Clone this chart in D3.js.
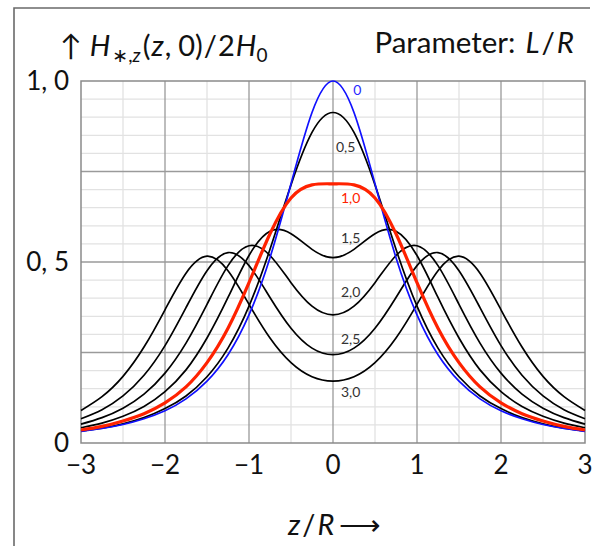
<!DOCTYPE html>
<html>
<head>
<meta charset="utf-8">
<script src="https://cdn.jsdelivr.net/npm/d3@7"></script>
<style>
  html, body { margin: 0; padding: 0; background: #fff; }
  svg { display: block; }
  text { font-family: Lato, "Open Sans", "DejaVu Sans", sans-serif; fill: #111; }
</style>
</head>
<body>
<svg id="chart" width="592" height="546"></svg>
<script>
// Axial field of two coaxial loops, normalised: H*,z(z,0) / 2H0, one curve per spacing L/R
const zValues = [-3, -2.75, -2.5, -2.25, -2, -1.75, -1.5, -1.25, -1, -0.75, -0.5, -0.25,
                 0, 0.25, 0.5, 0.75, 1, 1.25, 1.5, 1.75, 2, 2.25, 2.5, 2.75, 3];

const seriesL00 = [0.032, 0.040, 0.051, 0.067, 0.089, 0.122, 0.171, 0.244, 0.354, 0.512, 0.716, 0.913,
                   1.000, 0.913, 0.716, 0.512, 0.354, 0.244, 0.171, 0.122, 0.089, 0.067, 0.051, 0.040, 0.032];
const seriesL05 = [0.033, 0.041, 0.053, 0.070, 0.095, 0.130, 0.183, 0.262, 0.378, 0.535, 0.713, 0.858,
                   0.913, 0.858, 0.713, 0.535, 0.378, 0.262, 0.183, 0.130, 0.095, 0.070, 0.053, 0.041, 0.033];
const seriesL10 = [0.036, 0.046, 0.061, 0.081, 0.111, 0.155, 0.222, 0.317, 0.443, 0.578, 0.677, 0.713,
                   0.716, 0.713, 0.677, 0.578, 0.443, 0.317, 0.222, 0.155, 0.111, 0.081, 0.061, 0.046, 0.036];
const seriesL15 = [0.042, 0.055, 0.074, 0.101, 0.142, 0.202, 0.290, 0.402, 0.518, 0.585, 0.578, 0.535,
                   0.512, 0.535, 0.578, 0.585, 0.518, 0.402, 0.290, 0.202, 0.142, 0.101, 0.074, 0.055, 0.042];
const seriesL20 = [0.052, 0.070, 0.096, 0.135, 0.193, 0.276, 0.383, 0.490, 0.545, 0.518, 0.443, 0.378,
                   0.354, 0.378, 0.443, 0.518, 0.545, 0.490, 0.383, 0.276, 0.193, 0.135, 0.096, 0.070, 0.052];
const seriesL25 = [0.067, 0.092, 0.130, 0.187, 0.269, 0.374, 0.476, 0.526, 0.490, 0.402, 0.317, 0.262,
                   0.244, 0.262, 0.317, 0.402, 0.490, 0.526, 0.476, 0.374, 0.269, 0.187, 0.130, 0.092, 0.067];
const seriesL30 = [0.090, 0.128, 0.184, 0.265, 0.368, 0.469, 0.516, 0.476, 0.383, 0.290, 0.222, 0.183,
                   0.171, 0.183, 0.222, 0.290, 0.383, 0.476, 0.516, 0.469, 0.368, 0.265, 0.184, 0.128, 0.090];

const curveLabels = ["0", "0,5", "1,0", "1,5", "2,0", "2,5", "3,0"];
const xTickValues = [-3, -2, -1, 0, 1, 2, 3];
const xTickLabels = ["\u22123", "\u22122", "\u22121", "0", "1", "2", "3"];
const yTickValues = [0, 0.5, 1];
const yTickLabels = ["0", "0, 5", "1, 0"];

const svg = d3.select("#chart");
const W = 592, H = 546;
const plot = { left: 81, right: 585, top: 81, bottom: 443 };

const x = d3.scaleLinear().domain([-3, 3]).range([plot.left, plot.right]);
const y = d3.scaleLinear().domain([0, 1]).range([plot.bottom, plot.top]);

// outer frame (left and top edges)
svg.append("path")
  .attr("d", `M14,${H} L14,8 L590,8`)
  .attr("fill", "none").attr("stroke", "#6a6a6a").attr("stroke-width", 1.6);

// grid
const grid = svg.append("g");
const minorX = d3.range(-3, 3.0001, 0.5).filter(v => Math.abs(v % 1) > 1e-6);
const minorY = d3.range(0, 1.0001, 0.05).filter(v => Math.abs((v / 0.25) - Math.round(v / 0.25)) > 1e-6);
const majorX = d3.range(-2, 2.0001, 1);
const majorY = [0.25, 0.5, 0.75];

grid.selectAll(".mx").data(minorX).join("line")
  .attr("x1", d => x(d)).attr("x2", d => x(d))
  .attr("y1", plot.top).attr("y2", plot.bottom)
  .attr("stroke", "#e2e2e2").attr("stroke-width", 1.3);
grid.selectAll(".my").data(minorY).join("line")
  .attr("y1", d => y(d)).attr("y2", d => y(d))
  .attr("x1", plot.left).attr("x2", plot.right)
  .attr("stroke", "#e2e2e2").attr("stroke-width", 1.3);
grid.selectAll(".Mx").data(majorX).join("line")
  .attr("x1", d => x(d)).attr("x2", d => x(d))
  .attr("y1", plot.top).attr("y2", plot.bottom)
  .attr("stroke", "#9a9a9a").attr("stroke-width", 1.3);
grid.selectAll(".My").data(majorY).join("line")
  .attr("y1", d => y(d)).attr("y2", d => y(d))
  .attr("x1", plot.left).attr("x2", plot.right)
  .attr("stroke", "#9a9a9a").attr("stroke-width", 1.3);
grid.append("rect")
  .attr("x", plot.left).attr("y", plot.top)
  .attr("width", plot.right - plot.left).attr("height", plot.bottom - plot.top)
  .attr("fill", "none").attr("stroke", "#8a8a8a").attr("stroke-width", 1.5);

// curves
const line = d3.line()
  .x((d, i) => x(zValues[i]))
  .y(d => y(d))
  .curve(d3.curveNatural);

const curves = [
  { data: seriesL05, color: "#000", width: 1.7 },
  { data: seriesL15, color: "#000", width: 1.7 },
  { data: seriesL20, color: "#000", width: 1.7 },
  { data: seriesL25, color: "#000", width: 1.7 },
  { data: seriesL30, color: "#000", width: 1.7 },
  { data: seriesL00, color: "#1010ff", width: 1.7 },
  { data: seriesL10, color: "#ff2200", width: 3.2 }
];
svg.append("g").selectAll("path").data(curves).join("path")
  .attr("d", d => line(d.data))
  .attr("fill", "none")
  .attr("stroke", d => d.color)
  .attr("stroke-width", d => d.width)
  .attr("stroke-linejoin", "round");

// curve labels (parameter L/R)
const labelPos = [
  { z: 0.29, v: 0.976, color: "#2a2aff" },
  { z: 0.15, v: 0.818, color: "#333" },
  { z: 0.21, v: 0.677, color: "#ff2200" },
  { z: 0.21, v: 0.569, color: "#333" },
  { z: 0.21, v: 0.418, color: "#333" },
  { z: 0.21, v: 0.290, color: "#333" },
  { z: 0.21, v: 0.143, color: "#333" }
];
svg.append("g").selectAll("text").data(curveLabels).join("text")
  .attr("x", (d, i) => x(labelPos[i].z))
  .attr("y", (d, i) => y(labelPos[i].v))
  .attr("text-anchor", "middle")
  .attr("dominant-baseline", "central")
  .attr("font-size", 14)
  .style("fill", (d, i) => labelPos[i].color)
  .text(d => d);

// x tick labels
svg.append("g").selectAll("text").data(xTickValues).join("text")
  .attr("x", d => x(d))
  .attr("y", 474)
  .attr("text-anchor", "middle")
  .attr("font-size", 26)
  .text((d, i) => xTickLabels[i]);

// y tick labels
svg.append("g").selectAll("text").data(yTickValues).join("text")
  .attr("x", 69)
  .attr("y", d => y(d) + 9)
  .attr("text-anchor", "end")
  .attr("font-size", 26)
  .text((d, i) => yTickLabels[i]);

// y-axis title
const yt = svg.append("text").attr("x", 60).attr("y", 56).attr("font-size", 29);
yt.append("tspan").text("\u2191");
yt.append("tspan").attr("dx", 8).attr("font-style", "italic").text("H");
yt.append("tspan").attr("font-size", 19).attr("dy", 6).attr("dx", 2).text("\u2217,");
yt.append("tspan").attr("font-size", 19).attr("font-style", "italic").text("z");
yt.append("tspan").attr("dy", -6).attr("dx", 2).text("(");
yt.append("tspan").attr("dx", 1).attr("font-style", "italic").text("z");
yt.append("tspan").attr("dx", 1).text(",");
yt.append("tspan").attr("dx", 7).text("0)");
yt.append("tspan").attr("dx", 1).text("/");
yt.append("tspan").attr("dx", 1).text("2");
yt.append("tspan").attr("dx", 1).attr("font-style", "italic").text("H");
yt.append("tspan").attr("font-size", 19).attr("dy", 6).text("0");

// parameter note
const pt = svg.append("text").attr("x", 574).attr("y", 53).attr("font-size", 29.5).attr("text-anchor", "end");
pt.append("tspan").text("Parameter:");
pt.append("tspan").attr("dx", 10).attr("font-style", "italic").text("L");
pt.append("tspan").attr("dx", 2).text("/");
pt.append("tspan").attr("dx", 2).attr("font-style", "italic").text("R");

// x-axis title
const xt = svg.append("text").attr("x", 288).attr("y", 535).attr("font-size", 29);
xt.append("tspan").attr("font-style", "italic").text("z");
xt.append("tspan").attr("dx", 2).text("/");
xt.append("tspan").attr("dx", 2).attr("font-style", "italic").text("R");
xt.append("tspan").attr("dx", 5).attr("font-family", "DejaVu Sans").attr("font-weight", 300).text("\u27F6");
</script>
</body>
</html>
